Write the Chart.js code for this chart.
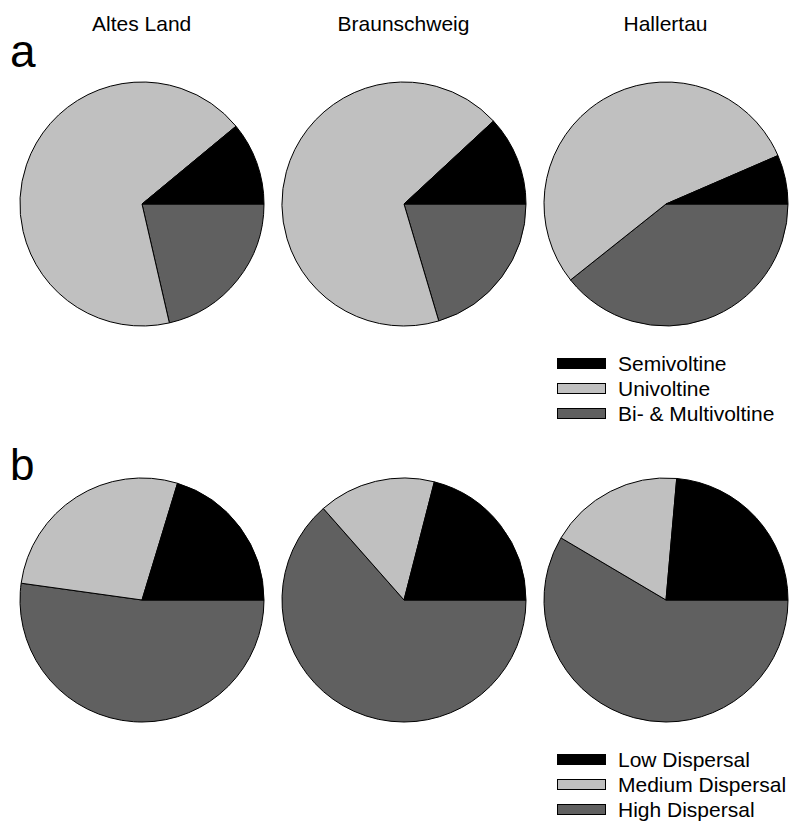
<!DOCTYPE html>
<html lang="en">

<head>
  <meta charset="UTF-8" />
  <title>Voltinism and dispersal</title>
  <script src="https://cdn.jsdelivr.net/npm/chart.js"></script>
  <style>
    body {
      margin: 0;
      background: #fff;
      font-family: "Liberation Sans", Arial, sans-serif;
      color: #000;
    }

    #page {
      position: relative;
      width: 791px;
      height: 821px;
    }

    #page canvas,
    .txt,
    .box {
      position: absolute;
    }

    .txt {
      line-height: 1;
      white-space: nowrap;
    }

    .title {
      font-size: 21px;
      transform: translateX(-50%);
    }

    .box {
      box-sizing: border-box;
      width: 49px;
      height: 11px;
      border: 1px solid #000;
    }

    .legtxt {
      font-size: 21px;
    }
  </style>
</head>

<body>
  <div id="page"></div>

  <script>
    const sites = ['Altes Land', 'Braunschweig', 'Hallertau'];

    // voltinism (%), one value per site
    const voltinismLabels = ['Semivoltine', 'Univoltine', 'Bi- & Multivoltine'];
    const semivoltine = [11.0, 11.9, 6.5];
    const univoltine = [67.6, 67.7, 54.2];
    const multivoltine = [21.4, 20.4, 39.3];

    // dispersal capacity (%), one value per site
    const dispersalLabels = ['Low Dispersal', 'Medium Dispersal', 'High Dispersal'];
    const lowDispersal = [20.3, 21.0, 23.6];
    const mediumDispersal = [27.5, 15.5, 17.9];
    const highDispersal = [52.2, 63.5, 58.5];

    const sliceColors = ['#000000', '#c0c0c0', '#606060'];

    const colX = [141.7, 403.5, 665.5];
    const rowY = [204.3, 599.5];
    const page = document.getElementById('page');

    function addText(cls, text, left, top) {
      const d = document.createElement('div');
      d.className = 'txt ' + cls;
      d.textContent = text;
      d.style.left = left + 'px';
      d.style.top = top + 'px';
      page.appendChild(d);
      return d;
    }

    function pie(cx, cy, labels, values) {
      const c = document.createElement('canvas');
      c.width = 250;
      c.height = 250;
      c.style.left = (cx - 125) + 'px';
      c.style.top = (cy - 125) + 'px';
      page.appendChild(c);
      // slices run anticlockwise from 3 o'clock, chart.js goes clockwise -> reverse
      new Chart(c, {
        type: 'pie',
        data: {
          labels: labels.slice().reverse(),
          datasets: [{
            data: values.slice().reverse(),
            backgroundColor: sliceColors.slice().reverse(),
            borderColor: '#000',
            borderWidth: 1
          }]
        },
        options: {
          responsive: false,
          animation: false,
          rotation: 90,
          radius: 122,
          layout: { padding: 0 },
          plugins: {
            legend: { display: false },
            tooltip: { enabled: false }
          }
        }
      });
    }

    function legend(labels, top) {
      labels.forEach((lab, i) => {
        const b = document.createElement('div');
        b.className = 'box';
        b.style.left = '557px';
        b.style.top = (top + i * 25) + 'px';
        b.style.background = sliceColors[i];
        page.appendChild(b);
        addText('legtxt', lab, 618, top - 5.1 + i * 25);
      });
    }

    sites.forEach((s, i) => addText('title', s, colX[i], 13.2));

    addText('', 'a', 10, 27.6).style.fontSize = '46px';
    addText('', 'b', 10, 443.3).style.fontSize = '44px';

    sites.forEach((s, i) => {
      pie(colX[i], rowY[0], voltinismLabels, [semivoltine[i], univoltine[i], multivoltine[i]]);
      pie(colX[i], rowY[1], dispersalLabels, [lowDispersal[i], mediumDispersal[i], highDispersal[i]]);
    });

    legend(voltinismLabels, 358);
    legend(dispersalLabels, 754);
  </script>
</body>

</html>
